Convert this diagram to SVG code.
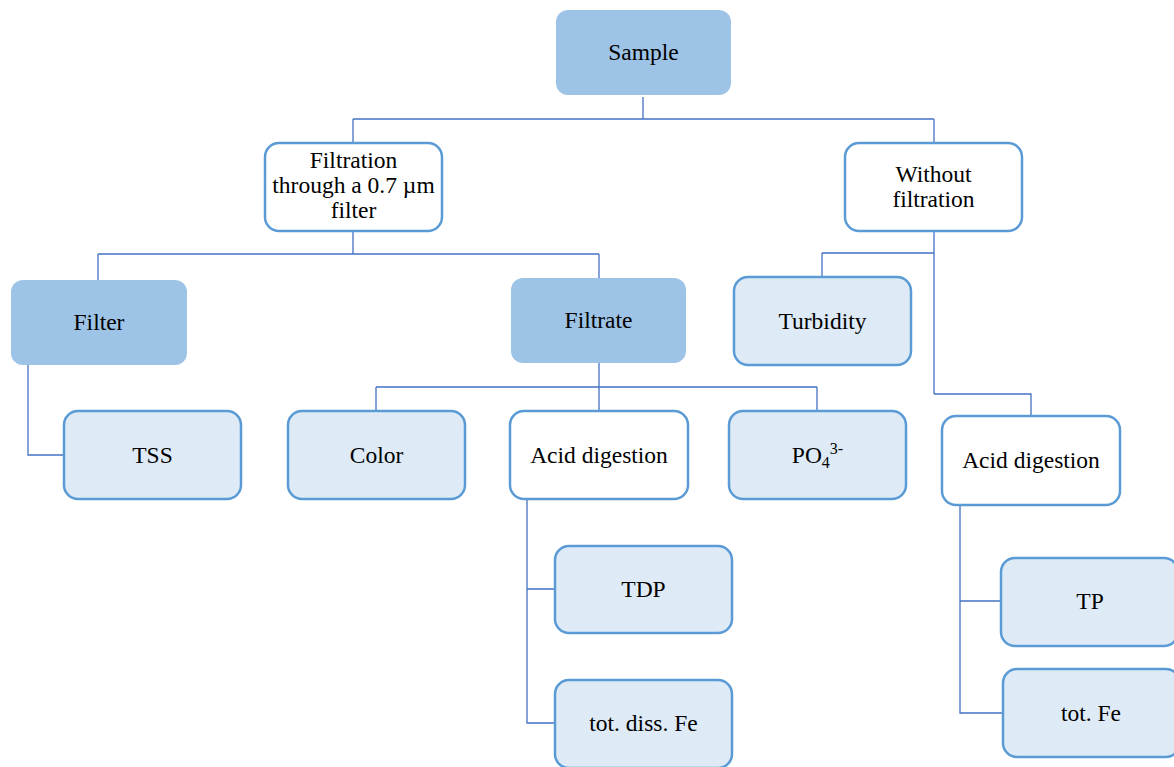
<svg xmlns="http://www.w3.org/2000/svg" width="1174" height="767" viewBox="0 0 1174 767" font-family="'Liberation Serif', 'Times New Roman', 'DejaVu Serif', serif">
<style>
.dark{fill:#9dc3e6;stroke:none}
.light{fill:#deebf7;stroke:#5b9bd5;stroke-width:2.5}
.white{fill:#ffffff;stroke:#5b9bd5;stroke-width:2.5}
text{font-family:'Liberation Serif','Times New Roman','DejaVu Serif',serif;font-size:23.5px;fill:#000;text-anchor:middle}
.conn path{fill:none;stroke:#4472c4;stroke-width:1.3}
</style>
<rect width="1174" height="767" fill="#fff"/>
<g class="conn">
<path d="M643,97 V119 M353,119 H934 M353,119 V143 M934,119 V143"/>
<path d="M353,231 V254 M98,254 H599 M98,254 V280 M599,254 V278"/>
<path d="M934,231 V394 M822,253 H934 M822,253 V277 M934,394 H1031 V416"/>
<path d="M28,365 V455 H63"/>
<path d="M599,363 V387 M376,387 H817 M376,387 V410 M599,387 V410 M817,387 V411"/>
<path d="M527,499 V723 H555 M527,589 H555"/>
<path d="M960,505 V713 H1002 M960,601 H1000"/>
</g>
<g id="sample"><rect class="dark" x="556" y="10" width="175" height="85" rx="12"/><text x="643.5" y="60">Sample</text></g>
<g id="filtration"><rect class="white" x="265" y="143" width="177" height="88" rx="14"/><text x="353.5" y="168">Filtration</text><text x="353.5" y="193">through a 0.7 µm</text><text x="353.5" y="218">filter</text></g>
<g id="without"><rect class="white" x="845" y="143" width="177" height="88" rx="14"/><text x="933.5" y="182">Without</text><text x="933.5" y="207">filtration</text></g>
<g id="filter"><rect class="dark" x="11" y="280" width="176" height="85" rx="12"/><text x="99" y="330">Filter</text></g>
<g id="filtrate"><rect class="dark" x="511" y="278" width="175" height="85" rx="12"/><text x="598.5" y="328">Filtrate</text></g>
<g id="turbidity"><rect class="light" x="734" y="277" width="177" height="88" rx="14"/><text x="822.5" y="329">Turbidity</text></g>
<g id="tss"><rect class="light" x="64" y="411" width="177" height="88" rx="14"/><text x="152.5" y="463">TSS</text></g>
<g id="color"><rect class="light" x="288" y="411" width="177" height="88" rx="14"/><text x="376.5" y="463">Color</text></g>
<g id="acid1"><rect class="white" x="510" y="411" width="178" height="88" rx="14"/><text x="599" y="463">Acid digestion</text></g>
<g id="po4"><rect class="light" x="729" y="411" width="177" height="88" rx="14"/><text x="817.5" y="463">PO<tspan font-size="16" dy="5">4</tspan><tspan font-size="16" dy="-14">3-</tspan></text></g>
<g id="acid2"><rect class="white" x="942" y="416" width="178" height="89" rx="14"/><text x="1031" y="468">Acid digestion</text></g>
<g id="tdp"><rect class="light" x="555" y="546" width="177" height="87" rx="14"/><text x="643.5" y="597">TDP</text></g>
<g id="totdiss"><rect class="light" x="555" y="680" width="177" height="88" rx="14"/><text x="643.5" y="731">tot. diss. Fe</text></g>
<g id="tp"><rect class="light" x="1001" y="558" width="177" height="88" rx="14"/><text x="1090" y="609">TP</text></g>
<g id="totfe"><rect class="light" x="1003" y="669" width="177" height="88" rx="14"/><text x="1091" y="721">tot. Fe</text></g>
</svg>
